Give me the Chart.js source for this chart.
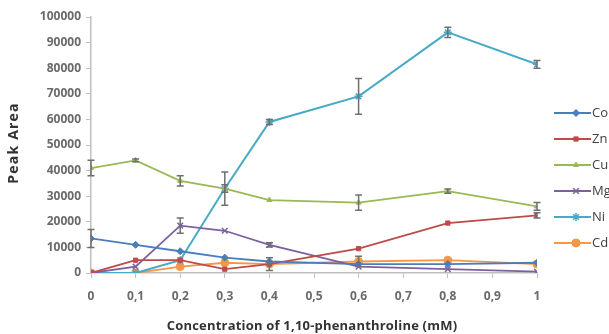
<!DOCTYPE html>
<html><head><meta charset="utf-8">
<script src="https://cdn.jsdelivr.net/npm/chart.js@4/dist/chart.umd.min.js"></script>
<style>html,body{margin:0;padding:0;background:#fff}#wrap{width:609px;height:334px;position:relative}</style>
</head><body><div id="wrap"><canvas id="c" width="609" height="334"></canvas></div>
<script>
const concentrations = [0, 0.1, 0.2, 0.3, 0.4, 0.6, 0.8, 1];
const seriesNames = ["Co", "Zn", "Cu", "Mg", "Ni", "Cd"];
const coValues = [13500, 11000, 8500, 6000, 4500, 3500, 3500, 4000];
const znValues = [0, 5000, 5000, 1500, 3500, 9500, 19500, 22500];
const cuValues = [41000, 44000, 36000, 33000, 28500, 27500, 32000, 26000];
const mgValues = [0, 2500, 18500, 16500, 11000, 2500, 1500, 500];
const niValues = [0, 0, 5000, 33000, 59000, 69000, 94000, 81500];
const cdValues = [0, 0, 2500, 4000, 3500, 4500, 5000, 3500];
const coErrors = [3500, 0, 0, 0, 0, 0, 0, 0];
const znErrors = [0, 0, 0, 0, 0, 0, 0, 1000];
const cuErrors = [3000, 500, 2000, 1500, 0, 3000, 800, 1500];
const mgErrors = [0, 0, 3000, 0, 800, 0, 0, 0];
const niErrors = [0, 0, 0, 6500, 1000, 7000, 2000, 1500];
const cdErrors = [0, 0, 0, 0, 2500, 2000, 0, 0];
const xTicks = [0, 0.1, 0.2, 0.3, 0.4, 0.5, 0.6, 0.7, 0.8, 0.9, 1];
const xTitle = "Concentration of 1,10-phenanthroline (mM)";
const yTitle = "Peak Area";

const colors = ["#4A7EBB", "#BE4B48", "#98B954", "#7D60A0", "#46AAC5", "#F79646"];
const styles = ["rectRot", "rect", "triangle", "crossRot", "star", "circle"];
const radii = [3.5, 3, 3, 4, 4, 4];
const values = [coValues, znValues, cuValues, mgValues, niValues, cdValues];
const errors = [coErrors, znErrors, cuErrors, mgErrors, niErrors, cdErrors];

const datasets = seriesNames.map((n, i) => ({
  label: n,
  data: concentrations.map((x, j) => ({x: x, y: values[i][j]})),
  errs: errors[i],
  borderColor: colors[i],
  backgroundColor: colors[i],
  pointBackgroundColor: colors[i],
  pointBorderColor: colors[i],
  pointStyle: styles[i],
  pointRadius: radii[i],
  pointBorderWidth: (styles[i] === "crossRot" || styles[i] === "star") ? 1.5 : 1,
  borderWidth: i === 4 ? 2 : 1.8,
  tension: 0,
  fill: false
}));

const errorBars = {
  id: 'errorBars',
  afterDatasetsDraw(chart) {
    const ctx = chart.ctx, xs = chart.scales.x, ys = chart.scales.y;
    ctx.save();
    ctx.strokeStyle = '#6f6f6f';
    ctx.lineWidth = 1.5;
    chart.data.datasets.forEach(ds => {
      ds.data.forEach((p, j) => {
        const e = ds.errs[j];
        if (!e) return;
        const x = xs.getPixelForValue(p.x);
        const y1 = ys.getPixelForValue(p.y - e), y2 = ys.getPixelForValue(p.y + e);
        ctx.beginPath();
        ctx.moveTo(x, y1); ctx.lineTo(x, y2);
        ctx.moveTo(x - 3.5, y1); ctx.lineTo(x + 3.5, y1);
        ctx.moveTo(x - 3.5, y2); ctx.lineTo(x + 3.5, y2);
        ctx.stroke();
      });
    });
    ctx.restore();
  }
};

const sideLegendAndTitles = {
  id: 'sideLegendAndTitles',
  afterDraw(chart) {
    const ctx = chart.ctx;
    ctx.save();
    chart.data.datasets.forEach((ds, i) => {
      const y = 113 + i * 26;
      ctx.strokeStyle = ds.borderColor;
      ctx.fillStyle = ds.borderColor;
      ctx.lineWidth = 2;
      ctx.beginPath(); ctx.moveTo(554, y); ctx.lineTo(591, y); ctx.stroke();
      ctx.lineWidth = ds.pointBorderWidth;
      Chart.helpers.drawPoint(ctx, {pointStyle: ds.pointStyle, radius: ds.pointRadius, borderWidth: ds.pointBorderWidth, rotation: 0}, 576, y);
      ctx.fillStyle = '#404040';
      ctx.font = '13px "Open Sans"';
      ctx.textBaseline = 'middle';
      ctx.textAlign = 'left';
      ctx.fillText(ds.label, 592, y);
    });
    ctx.fillStyle = '#333333';
    ctx.font = 'bold 13px "Open Sans"';
    ctx.textAlign = 'center';
    ctx.textBaseline = 'middle';
    ctx.letterSpacing = '0.2px';
    ctx.fillText(xTitle, 312, 326);
    ctx.translate(14, 143);
    ctx.rotate(-Math.PI / 2);
    ctx.font = 'bold 14px "Open Sans"';
    ctx.letterSpacing = '1.2px';
    ctx.fillText(yTitle, 0, 0);
    ctx.restore();
  }
};

new Chart(document.getElementById('c'), {
  type: 'line',
  data: {datasets: datasets},
  plugins: [errorBars, sideLegendAndTitles],
  options: {
    responsive: false,
    animation: false,
    layout: {padding: {left: 0, right: 72, top: 17, bottom: 0}},
    plugins: {legend: {display: false}, tooltip: {enabled: false}},
    elements: {point: {hoverRadius: 4}},
    scales: {
      x: {
        type: 'linear', min: 0, max: 1,
        afterBuildTicks(s) { s.ticks = xTicks.map(v => ({value: v})); },
        afterFit(s) { s.height = 61; },
        grid: {drawOnChartArea: false, drawTicks: true, tickLength: 5, color: '#bfbfbf'},
        border: {color: '#bfbfbf', width: 1.5},
        ticks: {
          color: '#6a6a6a', font: {family: '"Open Sans"', size: 12, weight: 'bold'}, padding: 11,
          callback: v => String(Math.round(v * 10) / 10).replace('.', ',')
        }
      },
      y: {
        min: 0, max: 100000,
        afterFit(s) { s.width = 91; },
        grid: {drawOnChartArea: false, drawTicks: true, tickLength: 5, color: '#bfbfbf'},
        border: {color: '#bfbfbf', width: 1.5},
        ticks: {
          stepSize: 10000, color: '#6a6a6a', font: {family: '"Open Sans"', size: 12, weight: 'bold'}, padding: 5,
          callback: v => String(v)
        }
      }
    }
  }
});
</script></body></html>
